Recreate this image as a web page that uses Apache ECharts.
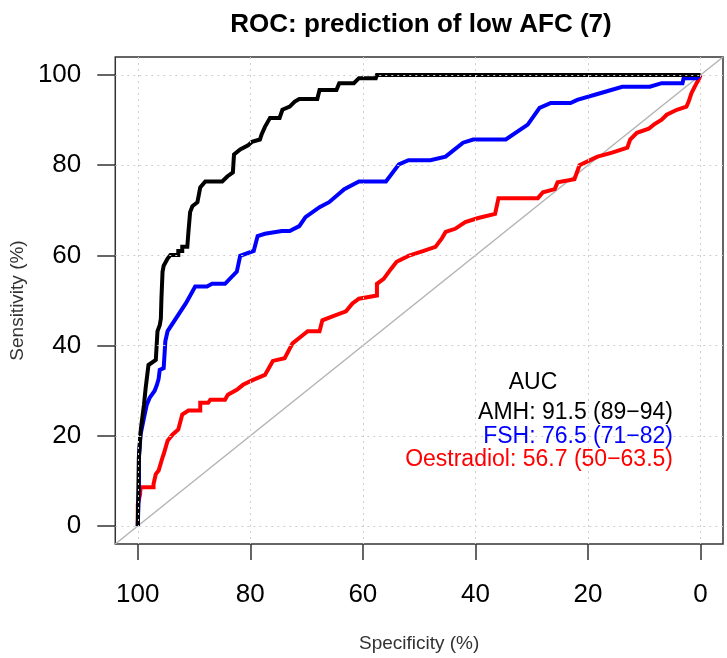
<!DOCTYPE html>
<html>
<head>
<meta charset="utf-8">
<script src="https://cdn.jsdelivr.net/npm/echarts@6/dist/echarts.min.js"></script>
<style>
  html, body { margin: 0; padding: 0; background: #fff; }
  #chart { width: 727px; height: 658px; }
</style>
</head>
<body>
<div id="chart"></div>
<script>
// ROC curves: [specificity %, sensitivity %]
const amhCurve = [
  [100, 0], [99.8, 15.2], [99.5, 21.1], [98.9, 26.9], [98.6, 30.6], [98.1, 35.7],
  [96.8, 36.8], [96.5, 43.2], [96.1, 44.5], [95.9, 46.0], [95.8, 50.4], [95.6, 56.4],
  [95.4, 57.7], [94.7, 59.3], [94.2, 60.1], [92.8, 60.1], [92.8, 61.0], [92.1, 61.0],
  [92.1, 61.9], [91.2, 61.9], [91.0, 65.2], [90.7, 69.6], [90.3, 70.9], [89.4, 71.8],
  [88.9, 75.1], [88.0, 76.4], [85.0, 76.4], [84.1, 77.5], [83.1, 78.4], [82.9, 82.4],
  [81.8, 83.5], [80.4, 84.4], [79.7, 85.2], [78.3, 85.7], [78.0, 86.8], [77.4, 88.5],
  [76.5, 90.5], [74.8, 90.5], [74.3, 92.3], [73.0, 93.0], [72.1, 94.1], [71.3, 94.7],
  [68.1, 94.7], [67.7, 96.7], [64.7, 96.7], [64.2, 98.2], [61.6, 98.2], [60.7, 99.3],
  [57.7, 99.3], [57.5, 100], [0, 100]
];
const fshCurve = [
  [100, 0], [99.8, 8.6], [99.8, 15.2], [99.5, 20.3], [98.9, 24.0], [98.4, 26.9],
  [97.9, 28.4], [97.0, 30.0], [96.6, 31.3], [96.3, 32.6], [96.1, 34.6], [95.4, 35.0],
  [95.1, 41.0], [94.7, 43.2], [91.5, 49.3], [91.0, 50.4], [89.8, 53.1], [87.7, 53.1],
  [86.8, 53.7], [84.5, 53.7], [82.4, 56.4], [81.8, 59.9], [79.4, 61.0], [78.7, 64.3],
  [77.4, 64.8], [74.4, 65.4], [73.0, 65.4], [71.3, 66.5], [70.2, 68.5], [67.7, 70.7],
  [66.0, 71.8], [63.3, 74.7], [60.7, 76.4], [55.9, 76.4], [53.6, 80.2], [51.9, 81.1],
  [48.0, 81.1], [45.3, 81.9], [42.2, 85.0], [40.4, 85.7], [34.6, 85.7], [30.7, 89.0],
  [28.6, 92.7], [26.6, 93.8], [23.1, 93.8], [21.9, 94.5], [18.3, 95.8], [13.9, 97.4],
  [9.0, 97.4], [6.9, 98.2], [3.2, 98.2], [3.0, 99.3], [0.7, 99.3], [0, 100]
];
const oestradiolCurve = [
  [100, 0], [100, 4.8], [99.6, 7.0], [99.5, 8.6], [98.4, 8.6], [97.2, 8.6],
  [97.2, 9.3], [96.8, 11.5], [96.3, 12.3], [95.6, 15.2], [95.4, 15.9], [94.7, 18.9],
  [93.8, 20.3], [92.8, 21.4], [92.1, 24.7], [91.0, 25.6], [88.9, 25.6], [88.9, 27.3],
  [87.5, 27.3], [87.1, 28.0], [84.5, 28.0], [84.0, 29.1], [82.4, 30.2], [81.3, 31.3],
  [79.5, 32.4], [77.4, 33.5], [76.0, 36.6], [73.9, 37.2], [72.5, 40.5], [70.7, 42.3],
  [69.8, 43.2], [67.7, 43.2], [67.2, 45.6], [65.4, 46.5], [63.0, 47.6], [61.9, 49.3],
  [60.7, 50.4], [57.5, 51.1], [57.5, 53.7], [56.3, 54.8], [55.0, 57.0], [54.0, 58.6],
  [51.9, 59.9], [49.2, 61.0], [47.1, 61.9], [46.0, 63.7], [45.3, 65.2], [43.6, 65.9],
  [41.8, 67.4], [39.5, 68.3], [36.5, 69.2], [35.9, 72.7], [28.9, 72.7], [28.0, 74.0],
  [25.9, 74.7], [25.4, 76.2], [22.4, 76.9], [21.5, 80.0], [18.3, 81.9], [15.7, 82.8],
  [13.0, 83.9], [12.5, 85.7], [11.3, 87.2], [9.2, 88.1], [8.3, 89.0], [6.9, 90.1],
  [6.0, 91.2], [4.2, 92.3], [2.5, 93.0], [2.1, 94.1], [1.6, 96.0], [0.7, 98.2],
  [0.2, 99.3], [0, 100]
];
// chance line, spanning the full plotting range
const chanceLine = [[104, -4], [-4, 104]];

const tickValues = [0, 20, 40, 60, 80, 100];
const axisRange = [-4, 104];
const chartTitle = 'ROC: prediction of low AFC (7)';
const xAxisTitle = 'Specificity (%)';
const yAxisTitle = 'Sensitivity (%)';
const aucHeader = 'AUC';
const aucLabels = ['AMH: 91.5 (89\u221294)', 'FSH: 76.5 (71\u221282)', 'Oestradiol: 56.7 (50\u221263.5)'];
const seriesColors = ['#000000', '#0000ff', '#ff0000'];

const FONT = 'Liberation Sans, Arial, sans-serif';

const chart = echarts.init(document.getElementById('chart'), null, { renderer: 'canvas' });

const gridLine = { show: true, lineStyle: { color: '#cfcfcf', width: 1, type: [2, 4] } };

function curveSeries(name, data, color) {
  return {
    name: name, type: 'line', data: data, showSymbol: false, symbol: 'none',
    lineStyle: { color: color, width: 4, join: 'miter' }, z: 2, animation: false
  };
}

function aucText(text, y, color, align) {
  return {
    type: 'text', x: align === 'center' ? 533 : 673, y: y, z: 10,
    style: {
      text: text, align: align, verticalAlign: 'middle',
      font: '23px ' + FONT, fill: color
    }
  };
}

chart.setOption({
  animation: false,
  backgroundColor: '#ffffff',
  grid: {
    left: 115, right: 4, top: 57, bottom: 112,
    show: true, borderColor: '#333', borderWidth: 1.5, backgroundColor: 'transparent'
  },
  xAxis: {
    type: 'value', inverse: true, min: axisRange[0], max: axisRange[1], z: 3,
    axisLine: { show: false, onZero: false },
    axisTick: { show: true, customValues: tickValues, length: 16, lineStyle: { color: '#333', width: 1.5 } },
    axisLabel: { show: true, customValues: tickValues, margin: 38, fontSize: 26, color: '#000', fontFamily: FONT },
    splitLine: gridLine,
    name: xAxisTitle, nameLocation: 'middle', nameGap: 90,
    nameTextStyle: { fontSize: 19, color: '#333', fontFamily: FONT }
  },
  yAxis: {
    type: 'value', min: axisRange[0], max: axisRange[1], z: 3,
    axisLine: { show: false, onZero: false },
    axisTick: { show: true, customValues: tickValues, length: 18, lineStyle: { color: '#333', width: 1.5 } },
    axisLabel: { show: true, customValues: tickValues, margin: 34, fontSize: 26, color: '#000', fontFamily: FONT },
    splitLine: gridLine,
    name: yAxisTitle, nameLocation: 'middle', nameGap: 84, nameRotate: 90,
    nameTextStyle: { fontSize: 19, color: '#333', fontFamily: FONT }
  },
  series: [
    {
      name: 'chance', type: 'line', data: chanceLine, showSymbol: false, symbol: 'none',
      lineStyle: { color: '#b4b4b4', width: 1.5 }, z: 1, silent: true
    },
    curveSeries('Oestradiol', oestradiolCurve, seriesColors[2]),
    curveSeries('FSH', fshCurve, seriesColors[1]),
    curveSeries('AMH', amhCurve, seriesColors[0])
  ],
  graphic: [
    {
      type: 'text', x: 421, y: 25, z: 10,
      style: { text: chartTitle, align: 'center', verticalAlign: 'middle', font: 'bold 26px ' + FONT, fill: '#000' }
    },
    aucText(aucHeader, 383, '#000', 'center'),
    aucText(aucLabels[0], 413, seriesColors[0], 'right'),
    aucText(aucLabels[1], 437, seriesColors[1], 'right'),
    aucText(aucLabels[2], 460, seriesColors[2], 'right')
  ]
});
</script>
</body>
</html>
